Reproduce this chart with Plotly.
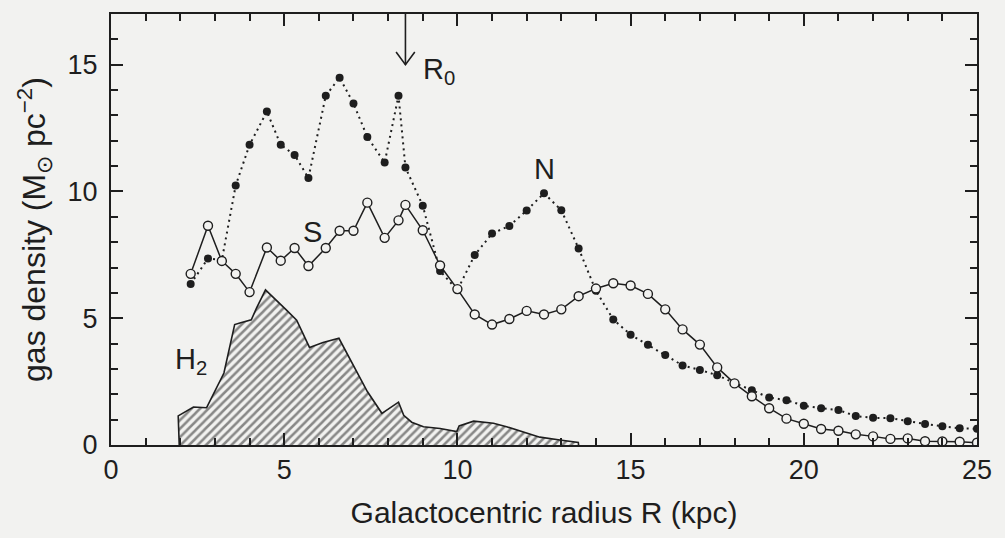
import plotly.graph_objects as go

# Galactocentric radius grid (kpc) shared by the N and S HI profiles
r = [2.3, 2.8, 3.2, 3.6, 4.0, 4.5, 4.9, 5.3, 5.7, 6.2, 6.6, 7.0, 7.4, 7.9, 8.3, 8.5, 9.0,
     9.5, 10.0, 10.5, 11.0, 11.5, 12.0, 12.5, 13.0, 13.5, 14.0, 14.5, 15.0, 15.5, 16.0,
     16.5, 17.0, 17.5, 18.0, 18.5, 19.0, 19.5, 20.0, 20.5, 21.0, 21.5, 22.0, 22.5, 23.0,
     23.5, 24.0, 24.5, 25.0]

# Northern (filled dots, dotted line)
n_sigma = [6.35, 7.36, 7.29, 10.24, 11.84, 13.15, 11.84, 11.44, 10.53, 13.78, 14.49, 13.47,
           12.15, 11.14, 13.78, 10.95, 9.44, 6.86, 6.11, 7.49, 8.34, 8.64, 9.25, 9.93, 9.26,
           7.75, 6.08, 4.95, 4.35, 3.95, 3.55, 3.14, 2.96, 2.75, 2.45, 2.16, 1.87, 1.77, 1.55,
           1.45, 1.38, 1.14, 1.07, 1.06, 0.94, 0.83, 0.74, 0.66, 0.64]

# Southern (open circles, solid line)
s_sigma = [6.75, 8.65, 7.26, 6.75, 6.03, 7.79, 7.27, 7.77, 7.06, 7.77, 8.45, 8.45, 9.56, 8.17,
           8.86, 9.47, 8.47, 7.08, 6.15, 5.15, 4.75, 4.97, 5.29, 5.15, 5.35, 5.87, 6.17, 6.38,
           6.29, 5.96, 5.35, 4.56, 3.96, 3.06, 2.43, 1.92, 1.45, 1.04, 0.84, 0.63, 0.56, 0.42,
           0.34, 0.24, 0.26, 0.15, 0.14, 0.13, 0.09]

# Molecular gas (hatched area)
h2_r = [1.97, 1.94, 2.38, 2.76, 3.26, 3.57, 3.72, 4.05, 4.2, 4.46, 5.06, 5.36, 5.73, 6.12,
        6.58, 7.02, 7.4, 7.82, 8.3, 8.45, 8.68, 9.02, 9.5, 9.98, 10.05, 10.47, 11.04, 11.42,
        11.9, 12.38, 12.96, 13.49, 13.5]
h2_sigma = [0, 1.15, 1.5, 1.47, 2.84, 4.75, 4.81, 4.94, 5.4, 6.12, 5.33, 4.92, 3.85, 4.04,
            4.21, 3.08, 2.11, 1.25, 1.69, 1.17, 0.9, 0.72, 0.65, 0.53, 0.75, 0.94, 0.86, 0.72,
            0.52, 0.31, 0.2, 0.1, 0]

R0 = 8.5
x_major, x_minor = 5, 1
y_major, y_minor = 5, 1
x_range = [0, 25]
y_range = [0, 17]

INK = "#1e1e1e"
BG = "#f2f2f0"
FONT = "Liberation Sans, Arial, sans-serif"
FS = 27
XTFS = 30
YTFS = 32

fig = go.Figure()

fig.add_trace(go.Scatter(
    x=h2_r, y=h2_sigma, mode="lines", fill="tozeroy",
    fillpattern=dict(shape="/", size=6, solidity=0.42, fgcolor=INK, bgcolor=BG),
    line=dict(color=INK, width=1.6), showlegend=False, hoverinfo="skip"))

fig.add_trace(go.Scatter(
    x=r, y=n_sigma, mode="lines+markers",
    line=dict(color=INK, width=2, dash="2px,4px"),
    marker=dict(symbol="circle", size=8, color=INK), showlegend=False))

fig.add_trace(go.Scatter(
    x=r, y=s_sigma, mode="lines+markers",
    line=dict(color=INK, width=1.5),
    marker=dict(symbol="circle", size=9, color=BG, line=dict(color=INK, width=1.4)),
    showlegend=False))

# R0 arrow (shaft + open V head)
y_top = y_range[1]
fig.add_trace(go.Scatter(
    x=[R0, R0, None, R0 - 0.27, R0, R0 + 0.27],
    y=[y_top, 15.0, None, 15.5, 15.0, 15.5],
    mode="lines", line=dict(color=INK, width=1.6), showlegend=False, hoverinfo="skip"))

labels = [
    ("R<sub>0</sub>", 8.95, 14.75, "left"),
    ("N", 12.5, 10.9, "center"),
    ("S", 5.83, 8.4, "center"),
    ("H<sub>2</sub>", 1.8, 3.3, "left"),
]
for txt, lx, ly, anc in labels:
    fig.add_annotation(x=lx, y=ly, text=txt, showarrow=False, xanchor=anc, yanchor="middle",
                       font=dict(family=FONT, size=29, color=INK))


def axis_style(major, minor):
    return dict(
        showline=True, linecolor=INK, linewidth=2, mirror="allticks",
        tickmode="linear", tick0=0, dtick=major,
        ticks="inside", ticklen=12, tickwidth=2, tickcolor=INK,
        showgrid=False, zeroline=False,
        tickfont=dict(family=FONT, size=FS, color=INK),
        minor=dict(ticks="inside", ticklen=7, tickwidth=1.8, tickcolor=INK,
                   tick0=0, dtick=minor, showgrid=False),
    )


fig.update_xaxes(range=x_range, **axis_style(x_major, x_minor),
                 title=dict(text="Galactocentric radius R (kpc)", standoff=18,
                            font=dict(family=FONT, size=XTFS, color=INK)))
fig.update_yaxes(range=y_range, ticklabelstandoff=6, **axis_style(y_major, y_minor),
                 title=dict(text="gas density (M<sub>⊙</sub> pc<sup>−2</sup>)", standoff=12,
                            font=dict(family=FONT, size=YTFS, color=INK)))

fig.update_layout(
    width=1005, height=538,
    margin=dict(l=111, r=28, t=14, b=93),
    paper_bgcolor=BG, plot_bgcolor=BG,
    showlegend=False,
)

fig.write_html("out.html")
